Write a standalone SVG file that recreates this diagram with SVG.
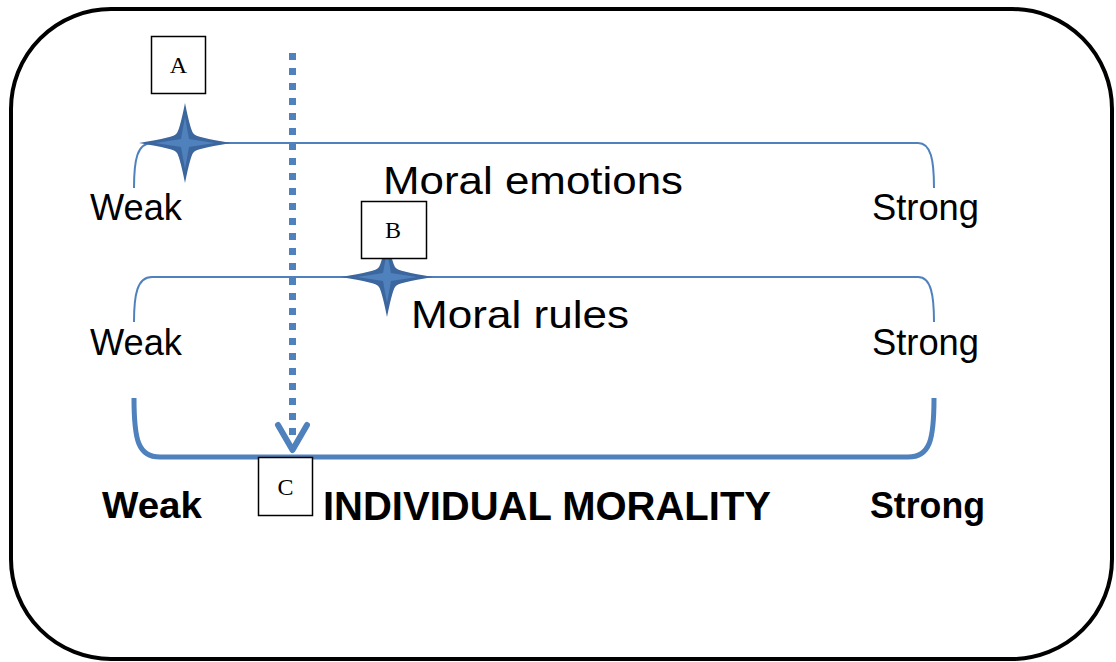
<svg xmlns="http://www.w3.org/2000/svg" width="1116" height="662" viewBox="0 0 1116 662">
<defs>
<style>
.lbl{font-family:"Liberation Sans",Arial,sans-serif;fill:#000;}
.b{font-weight:bold;}
.br{fill:none;stroke:#4f81bd;stroke-width:2;}
.box rect{fill:#fff;stroke:#000;stroke-width:1.5;}
.box text{font-family:"Liberation Serif","Times New Roman",serif;font-size:24px;text-anchor:middle;fill:#000;}
</style>
<g id="starShape">
<path d="M0,-40 Q6,-10 9,-9 Q10,-6 46,0 Q10,6 9,9 Q6,10 0,40 Q-6,10 -9,9 Q-10,6 -46,0 Q-10,-6 -9,-9 Q-6,-10 0,-40 Z" fill="#3c669e"/>
<path d="M0,-26 L4,-4 L30,0 L4,4 L0,26 L-4,4 L-30,0 L-4,-4 Z" fill="#4f81bd"/>
</g>
</defs>
<rect x="11" y="9" width="1101" height="650" rx="100" ry="100" fill="#fff" stroke="#000" stroke-width="4"/>
<g id="connectors">
<path class="br" d="M134,188 C134,160 137,143 152,143 L918,143 C931,143 934,160 934,188"/>
<path class="br" d="M134,322 C134,295 137,277 152,277 L918,277 C931,277 934,295 934,322"/>
<path d="M134,398 C134,440 138,457 160,457 L908,457 C930,457 934,440 934,398" fill="none" stroke="#4f81bd" stroke-width="5"/>
<line x1="292.5" y1="53" x2="292.5" y2="440" stroke="#4f81bd" stroke-width="7" stroke-dasharray="7 8"/>
<path d="M278,425 L292.5,450 L307,425" fill="none" stroke="#4f81bd" stroke-width="6" stroke-linecap="round" stroke-linejoin="round"/>
</g>
<g id="starA"><use href="#starShape" transform="translate(185,143)"/></g>
<g id="starB"><use href="#starShape" transform="translate(387,277)"/></g>
<g id="boxA" class="box"><rect x="151.5" y="36.5" width="54" height="57"/><text x="178.5" y="73">A</text></g>
<g id="boxB" class="box"><rect x="361.5" y="201.5" width="65" height="57"/><text x="393" y="238">B</text></g>
<g id="boxC" class="box"><rect x="258.5" y="457.5" width="54" height="58"/><text x="285.5" y="495">C</text></g>
<g id="labels">
<text class="lbl" x="383" y="194" font-size="38" textLength="300" lengthAdjust="spacingAndGlyphs">Moral emotions</text>
<text class="lbl" x="90" y="220" font-size="36" textLength="92" lengthAdjust="spacingAndGlyphs">Weak</text>
<text class="lbl" x="872" y="220" font-size="36" textLength="107" lengthAdjust="spacingAndGlyphs">Strong</text>
<text class="lbl" x="411" y="328" font-size="39" textLength="218" lengthAdjust="spacingAndGlyphs">Moral rules</text>
<text class="lbl" x="90" y="355" font-size="36" textLength="92" lengthAdjust="spacingAndGlyphs">Weak</text>
<text class="lbl" x="872" y="355" font-size="36" textLength="107" lengthAdjust="spacingAndGlyphs">Strong</text>
<text class="lbl b" x="102" y="518" font-size="36" textLength="100" lengthAdjust="spacingAndGlyphs">Weak</text>
<text class="lbl b" x="323" y="520" font-size="40" textLength="448" lengthAdjust="spacingAndGlyphs">INDIVIDUAL MORALITY</text>
<text class="lbl b" x="870" y="518" font-size="36" textLength="115" lengthAdjust="spacingAndGlyphs">Strong</text>
</g>
</svg>
